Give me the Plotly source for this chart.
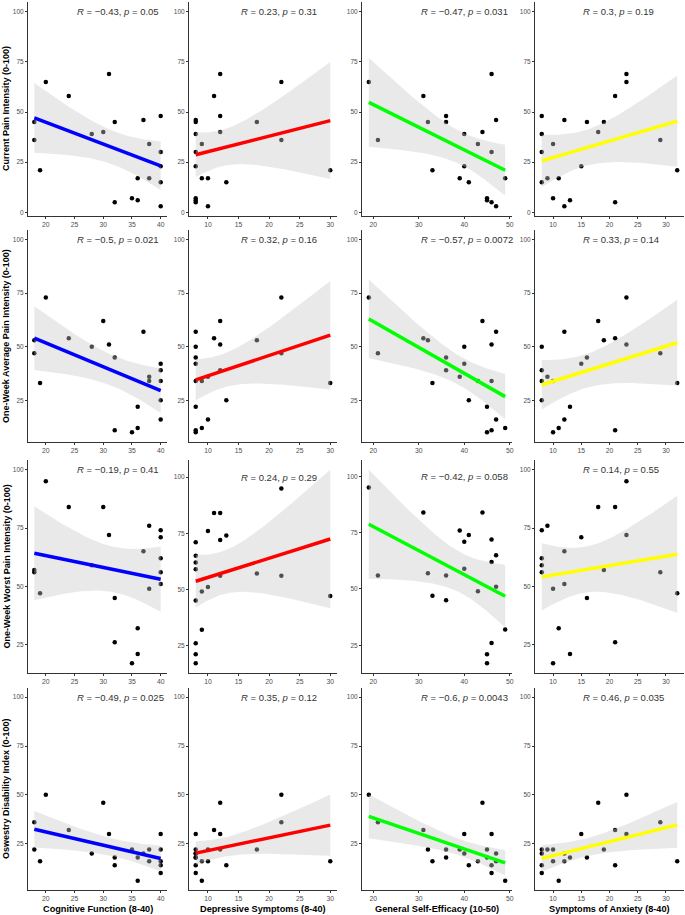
import numpy as np
import plotly.graph_objects as go

# ---- data: 21 participants (one value per participant) ----
cognitive = [40, 32, 36, 35, 40, 36, 38, 19, 40, 40, 38, 18, 28, 30, 18, 32, 37, 40, 24, 20, 31]
depressive = [10, 8, 8, 8, 13, 9, 10, 30, 8, 8, 9, 22, 8, 12, 18, 8, 8, 12, 11, 22, 12]
self_efficacy = [47, 46, 45, 45, 41, 49, 39, 33, 40, 46, 43, 21, 40, 44, 32, 36, 47, 36, 31, 19, 46]
anxiety = [12, 21, 13, 10, 8, 11, 9, 32, 15, 8, 10, 29, 8, 18, 19, 16, 12, 8, 21, 23, 23]

current_pain = [3, 5, 6, 7, 15, 17, 17, 21, 23, 30, 34, 36, 39, 40, 45, 45, 46, 48, 58, 65, 69]
avg_pain = [16, 11, 22, 10, 25, 12, 36, 33, 42, 34, 34, 47, 50, 62, 53, 45, 57, 39, 54, 73, 51]
worst_pain = [51, 26, 21, 17, 74, 32, 76, 47, 71, 62, 49, 56, 59, 84, 57, 45, 65, 56, 84, 95, 72]
odi = [16, 14, 18, 22, 14, 6, 22, 16, 30, 10, 16, 36, 20, 46, 22, 18, 20, 22, 32, 50, 30]

x_titles = ["Cognitive Function (8-40)", "Depressive Symptoms (8-40)",
            "General Self-Efficacy (10-50)", "Symptoms of Anxiety (8-40)"]
y_titles = ["Current Pain Intensity (0-100)", "One-Week Average Pain Intensity (0-100)",
            "One-Week Worst Pain Intensity (0-100)", "Oswestry Disability Index (0-100)"]

r_values = [["\u22120.43", "0.23", "\u22120.47", "0.3"],
            ["\u22120.5", "0.32", "\u22120.57", "0.33"],
            ["\u22120.19", "0.24", "\u22120.42", "0.14"],
            ["\u22120.49", "0.35", "\u22120.6", "0.46"]]
p_values = [["0.05", "0.31", "0.031", "0.19"],
            ["0.021", "0.16", "0.0072", "0.14"],
            ["0.41", "0.29", "0.058", "0.55"],
            ["0.025", "0.12", "0.0043", "0.035"]]

# ---- styling / layout ----
x_vars = [cognitive, depressive, self_efficacy, anxiety]
y_vars = [current_pain, avg_pain, worst_pain, odi]
line_colors = ["#0000FF", "#FF0000", "#00FF00", "#FFFF00"]
label_x = [25, 15, 30, 15]
label_y = 100
x_dticks = [5, 5, 10, 5]

W, H = 685, 915
col_px = [(28, 167), (189, 337), (362, 512), (535, 684)]
row_px = [(2, 216), (230, 442), (460, 673), (688, 890)]
T_CRIT = 2.093  # t(0.975, df = 19)
FONT = "Liberation Sans, Arial, sans-serif"

fig = go.Figure()
annotations = []
layout_axes = {}

for r in range(4):
    for c in range(4):
        k = r * 4 + c + 1
        xs_id = "x" if k == 1 else f"x{k}"
        ys_id = "y" if k == 1 else f"y{k}"
        x = np.array(x_vars[c], float)
        y = np.array(y_vars[r], float)
        n = len(x)
        slope, intercept = np.polyfit(x, y, 1)
        xg = np.linspace(x.min(), x.max(), 80)
        yhat = intercept + slope * xg
        resid = y - (intercept + slope * x)
        s = np.sqrt(np.sum(resid ** 2) / (n - 2))
        sxx = np.sum((x - x.mean()) ** 2)
        se = s * np.sqrt(1.0 / n + (xg - x.mean()) ** 2 / sxx)
        lo = yhat - T_CRIT * se
        hi = yhat + T_CRIT * se

        fig.add_trace(go.Scatter(x=x, y=y, mode="markers",
                                 marker=dict(color="black", size=4.5),
                                 xaxis=xs_id, yaxis=ys_id, hoverinfo="skip"))
        fig.add_trace(go.Scatter(x=np.concatenate([xg, xg[::-1]]),
                                 y=np.concatenate([hi, lo[::-1]]),
                                 mode="lines", line=dict(width=0),
                                 fill="toself", fillcolor="rgba(200,200,200,0.4)",
                                 xaxis=xs_id, yaxis=ys_id, hoverinfo="skip"))
        fig.add_trace(go.Scatter(x=xg, y=yhat, mode="lines",
                                 line=dict(color=line_colors[c], width=3.5),
                                 xaxis=xs_id, yaxis=ys_id, hoverinfo="skip"))

        xmin, xmax = x.min(), x.max()
        xr = xmax - xmin
        ymin = min(y.min(), lo.min())
        ymax = max(label_y, hi.max(), y.max())
        yr = ymax - ymin

        x0, x1 = col_px[c]
        y0, y1 = row_px[r]
        axis_common = dict(showline=True, linecolor="#333333", linewidth=1,
                           ticks="outside", ticklen=2, tickwidth=1, tickcolor="#333333",
                           showgrid=False, zeroline=False, automargin=False)
        layout_axes["xaxis" if k == 1 else f"xaxis{k}"] = dict(
            domain=[x0 / W, x1 / W], anchor=ys_id,
            range=[xmin - 0.05 * xr, xmax + 0.05 * xr],
            tick0=0, dtick=x_dticks[c],
            tickfont=dict(family=FONT, size=6.8, color="#4D4D4D"), **axis_common)
        layout_axes["yaxis" if k == 1 else f"yaxis{k}"] = dict(
            domain=[1 - y1 / H, 1 - y0 / H], anchor=xs_id,
            range=[ymin - 0.05 * yr, ymax + 0.05 * yr],
            tick0=0, dtick=25,
            tickfont=dict(family=FONT, size=6.5, color="#4D4D4D"), **axis_common)

        annotations.append(dict(
            xref=xs_id, yref=ys_id, x=label_x[c], y=label_y,
            xanchor="left", yanchor="middle", showarrow=False,
            text=f"<i>R</i> = {r_values[r][c]}, <i>p</i> = {p_values[r][c]}",
            font=dict(family=FONT, size=9.5, color="#333333")))

for r in range(4):
    y0, y1 = row_px[r]
    annotations.append(dict(
        xref="paper", yref="paper", x=6 / W, y=1 - (y0 + y1) / 2 / H,
        xanchor="center", yanchor="middle", textangle=-90, showarrow=False,
        text=f"<b>{y_titles[r]}</b>",
        font=dict(family=FONT, size=9, color="black")))
for c in range(4):
    x0, x1 = col_px[c]
    annotations.append(dict(
        xref="paper", yref="paper", x=(x0 + x1) / 2 / W, y=1 - 909 / H,
        xanchor="center", yanchor="middle", showarrow=False,
        text=f"<b>{x_titles[c]}</b>",
        font=dict(family=FONT, size=9.2, color="black")))

fig.update_layout(width=W, height=H, margin=dict(l=0, r=0, t=0, b=0),
                  paper_bgcolor="white", plot_bgcolor="white",
                  showlegend=False, annotations=annotations, **layout_axes)

fig.write_html("out.html", config={"displayModeBar": False},
               post_script="document.body.style.margin='0';document.body.style.padding='0';")
